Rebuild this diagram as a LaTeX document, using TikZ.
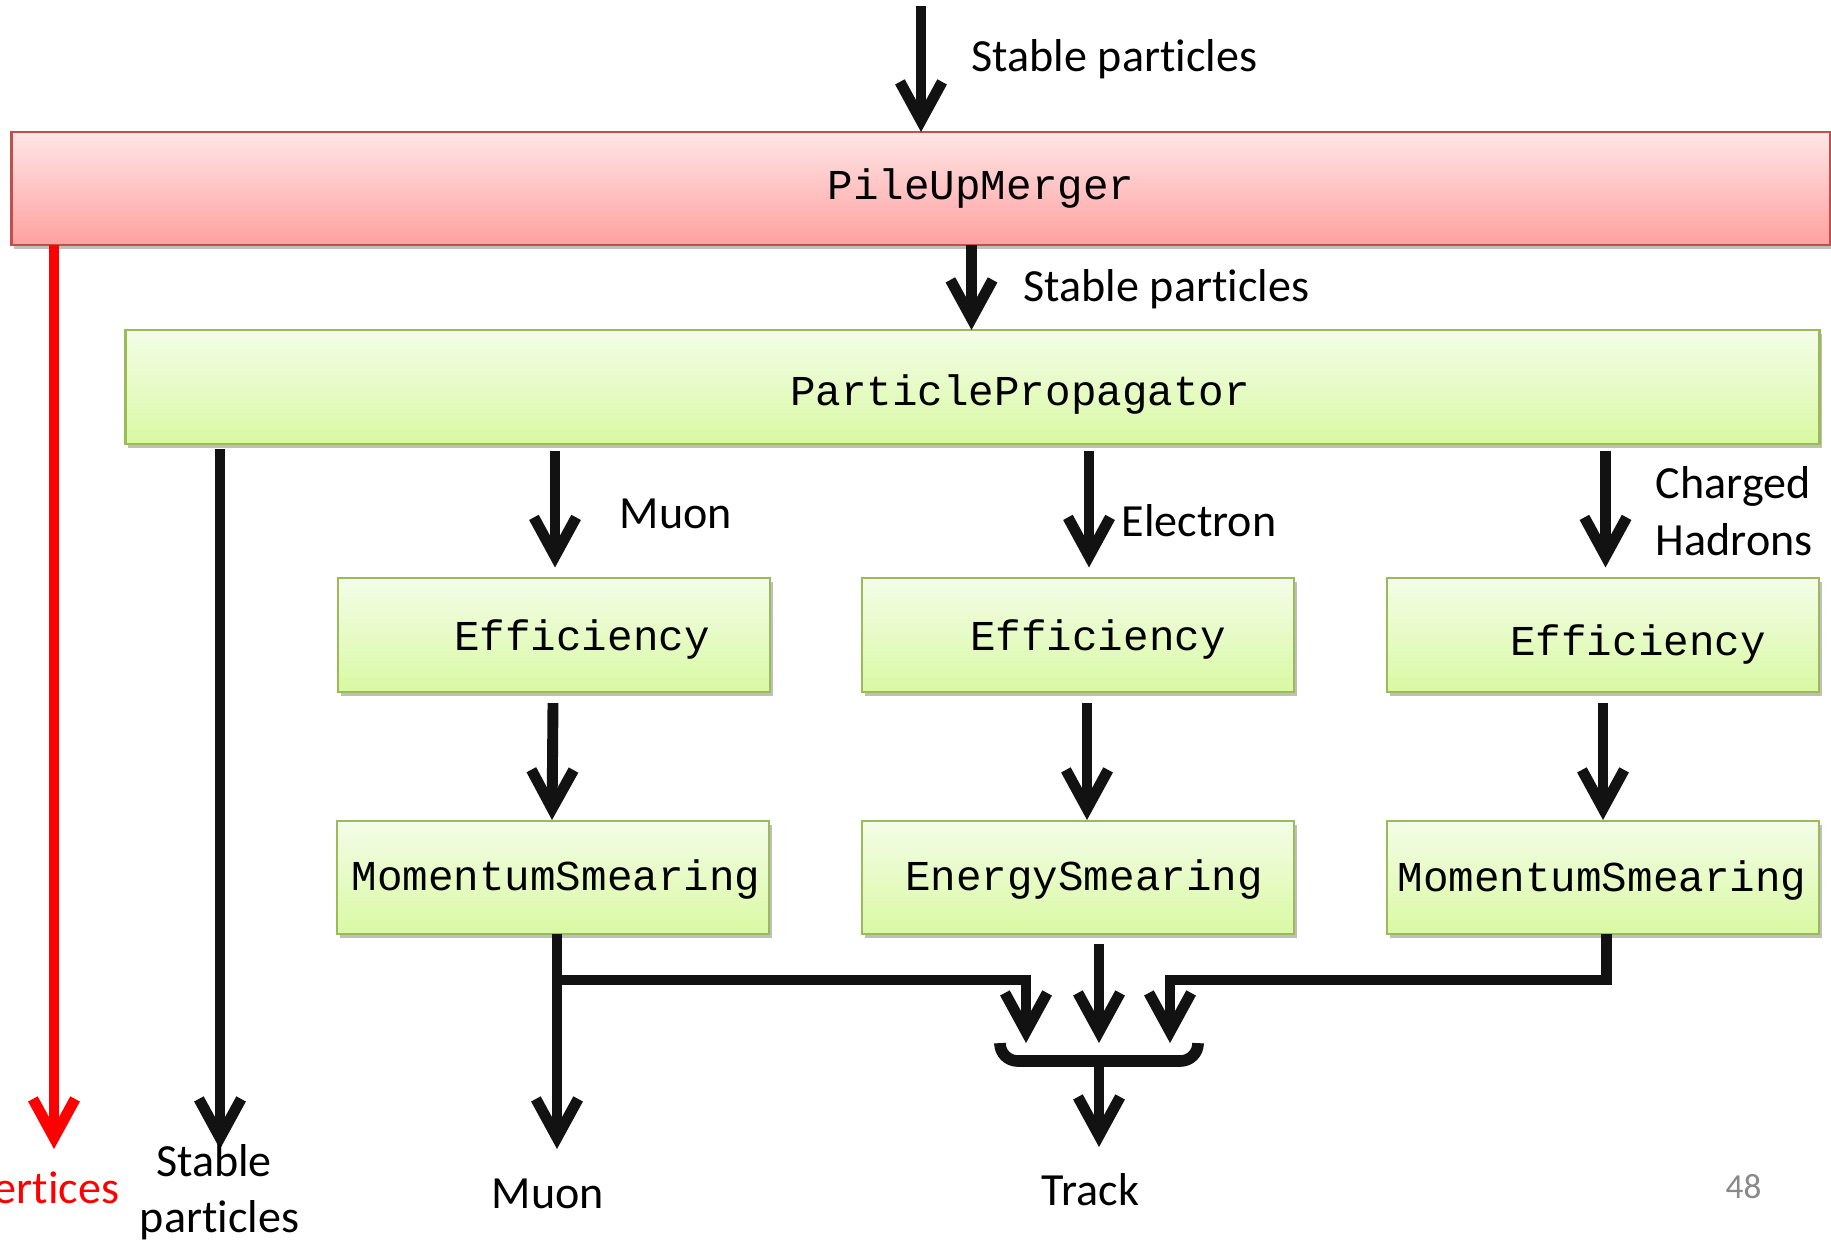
\documentclass[tikz,border=0pt]{standalone}
\usepackage{fontspec}
\setmainfont{Carlito}[Ligatures=NoCommon]
\newfontfamily\mono{Liberation Mono}
\usetikzlibrary{arrows.meta,calc,shadows}
\definecolor{pumtop}{RGB}{255,230,230}
\definecolor{pumbot}{RGB}{255,160,160}
\definecolor{pumline}{RGB}{192,80,77}
\definecolor{grtop}{RGB}{244,253,232}
\definecolor{grbot}{RGB}{217,249,163}
\definecolor{grline}{RGB}{155,187,89}
\definecolor{pagenum}{RGB}{137,137,137}
% keep "t" and "i" as separate glyphs
\newcommand{\ti}{t\kern0pt i}

\begin{document}
\begin{tikzpicture}[x=0.01cm, y=-0.01cm,
  box/.style={rectangle, inner sep=0pt, outer sep=0pt, line width=0.6pt,
     drop shadow={shadow xshift=0.8pt, shadow yshift=-1.2pt, fill=black, opacity=0.25}},
  redbox/.style={box, draw=pumline, top color=pumtop, bottom color=pumbot,
     minimum width=18.17cm, minimum height=1.13cm},
  greenbox/.style={box, draw=grline, top color=grtop, bottom color=grbot,
     minimum width=4.32cm, minimum height=1.14cm},
  modname/.style={font=\mono\fontsize{12.1}{14}\selectfont, inner sep=0pt, anchor=base},
  lbl/.style={font=\fontsize{13.1}{16}\selectfont, inner sep=0pt, anchor=base west},
  arr/.style={line width=3.1pt, draw=black!93, -{Straight Barb[length=11pt,width=12pt]}},
  redarr/.style={arr, draw=red},
]
\clip (0,0) rectangle (1831,1240);
\fill[white] (0,0) rectangle (1831,1240);

% module boxes
\node[redbox] (pum) at (920.5,188.5) {};
\node[greenbox, minimum width=16.93cm] (pp) at (972.5,387) {};
\node[greenbox] (eff1) at (554,635) {};
\node[greenbox] (eff2) at (1078,635) {};
\node[greenbox] (eff3) at (1603,635) {};
\node[greenbox, minimum height=1.13cm] (ms1) at (553,877.5) {};
\node[greenbox, minimum height=1.13cm] (es) at (1078,877.5) {};
\node[greenbox, minimum height=1.13cm] (ms3) at (1603,877.5) {};

% module names
\node[modname] (pumt) at (981,200) {PileUpMerger};
\node[modname] (ppt) at (1020,406) {ParticlePropagator};
\node[modname] (eff1t) at (582,650) {Efficiency};
\node[modname] (eff2t) at (1098,650) {Efficiency};
\node[modname] (eff3t) at (1638,655) {Efficiency};
\node[modname] (ms1t) at (556,890) {MomentumSmearing};
\node[modname] (est) at (1084,890) {EnergySmearing};
\node[modname] (ms3t) at (1602,891.5) {MomentumSmearing};

% free ends
\coordinate (src) at (921,6);
\coordinate (vtx) at (54,1149);
\coordinate (stab) at (220,1149);
\coordinate (muo) at (557,1149);
\coordinate (jl) at (1026,1043);
\coordinate (jc) at (1099,1043);
\coordinate (jr) at (1170,1043);
\coordinate (bl) at (1000,1045);
\coordinate (br) at (1198,1045);
\coordinate (trk) at (1099,1147);

% connectors
\draw[arr] (src) -- (src |- pum.north);
\draw[arr] ($(pum.south)+(51,0)$) -- ($(pp.north)+(-1,0)$);
\draw[redarr] (pum.south -| vtx) -- (vtx);
\draw[arr] ($(pp.south -| stab)+(0,5)$) -- (stab);
\draw[arr] ($(pp.south -| eff1.north)+(1,7)$) -- ($(eff1.north)+(1,-10.5)$);
\draw[arr] ($(pp.south -| eff2.north)+(11,7)$) -- ($(eff2.north)+(11,-10.5)$);
\draw[arr] ($(pp.south -| eff3.north)+(2.5,7)$) -- ($(eff3.north)+(2.5,-10.5)$);
\draw[arr] ($(eff1.south)+(-1,11)$) -- ($(ms1.north)+(-1,-1)$);
\draw[arr] ($(eff2.south)+(9,11)$) -- ($(es.north)+(9,-1)$);
\draw[arr] ($(eff3.south)+(0,11)$) -- ($(ms3.north)+(0,-1)$);
\draw[arr] (ms1.south -| muo) -- (muo);
\draw[arr] ($(ms1.south -| muo)+(0,46)$) -| (jl);
\draw[arr] ($(es.south -| jc)+(0,9.6)$) -- (jc);
\draw[arr] ($(ms3.south)+(3.6,0)$) |- ($(jr)+(0,-63)$) -- (jr);
\draw[line width=3.3pt, draw=black!93, rounded corners=5pt]
  (bl) -- ($(bl)+(0,16)$) -- ($(br)+(0,16)$) -- (br);
\draw[arr] ($(bl)!0.5!(br)+(0,16)$) -- (trk);

% labels
\node[lbl] (sp1) at (971,72) {Stable par\ti cles};
\node[lbl] (sp2) at (1023,302) {Stable par\ti cles};
\node[lbl] (mu1) at (619,528) {Muon};
\node[lbl] (el) at (1121,537) {Electron};
\node[lbl] (ch1) at (1655,499) {Charged};
\node[lbl] (ch2) at (1655,555) {Hadrons};
\node[lbl, anchor=base east, text=red] (vx) at (120,1203) {Ver\ti ces};
\node[lbl, anchor=base] (sp3a) at (214,1176) {Stable};
\node[lbl, anchor=base] (sp3b) at (219.5,1232) {par\ti cles};
\node[lbl] (mu2) at (491,1208) {Muon};
\node[lbl] (trkl) at (1041,1205) {Track};
\node[lbl, font=\fontsize{10}{12}\selectfont, text=pagenum] (pg) at (1725,1198) {48};
\end{tikzpicture}
\end{document}
